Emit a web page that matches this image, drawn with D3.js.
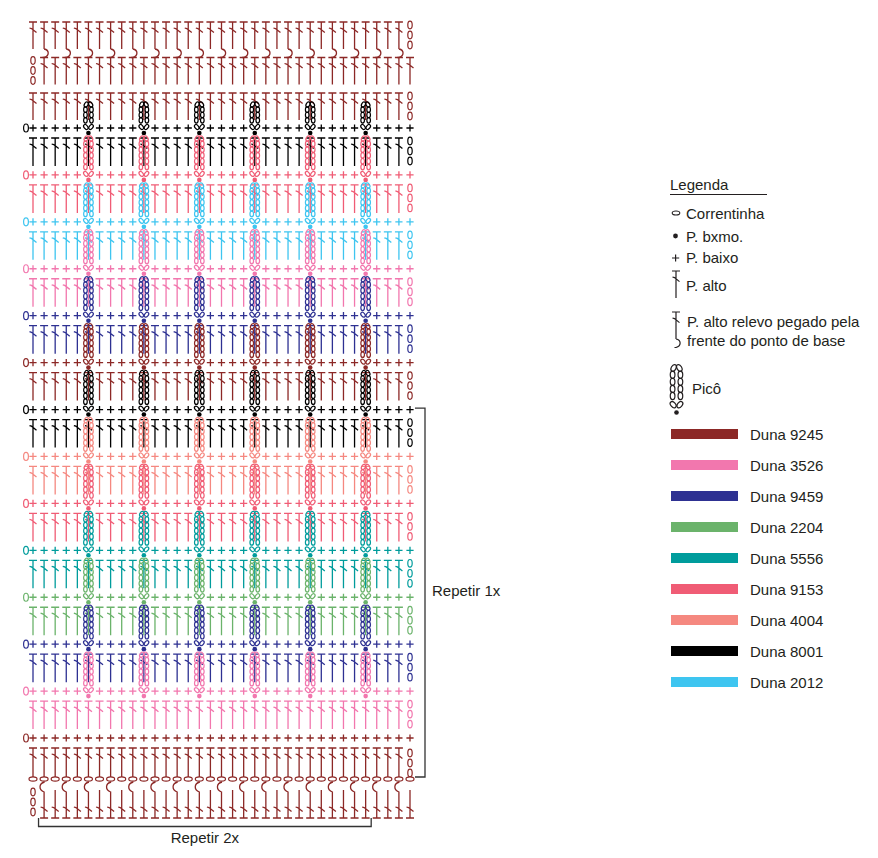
<!DOCTYPE html>
<html>
<head>
<meta charset="utf-8">
<script src="https://cdn.jsdelivr.net/npm/d3@7"></script>
<style>
  body { margin: 0; background: #fff; }
  text { font-family: "Liberation Sans", Arial, sans-serif; font-size: 15px; fill: #231f20; }
</style>
</head>
<body>
<svg id="chart" width="878" height="858"></svg>
<script>
// yarns, in legend order
const yarnCodes = ["9245", "3526", "9459", "2204", "5556", "9153", "4004", "8001", "2012"];
const yarnColors = ["#8c2826", "#f277ae", "#2e3192", "#6bb36b", "#009c9c", "#f05c75", "#f58880", "#000000", "#3ec5f0"];

// bands top to bottom: a row of P. baixo, then a row of P. alto under it
const bandYarns = ["8001", "9153", "2012", "3526", "9459", "9245", "8001", "4004", "9153", "5556", "2204", "9459", "3526", "9245"];
const bandPicot = [true, true, true, true, true, true, true, true, true, true, true, true, true, false];
const picotCols = [5, 10, 15, 20, 25, 30];
const nCols = 35;

// the three P. alto rows at the very top
const topRowYarns = ["9245", "9245", "9245"];
const topRowChain = ["right", "left", "right"];
const topRowPost = [true, false, false];

// legend texts
const symbolLabels = [["Correntinha"], ["P. bxmo."], ["P. baixo"], ["P. alto"],
  ["P. alto relevo pegado pela", "frente do ponto de base"], ["Picô"]];
const repeatLabels = ["Repetir 1x", "Repetir 2x"];

const svg = d3.select("#chart");
const color = d3.scaleOrdinal().domain(yarnCodes).range(yarnColors);
const ink = "#231f20";

const x = d3.scaleLinear().domain([0, nCols - 1]).range([33, 410]);
const yBand = d3.scaleLinear().domain([0, bandYarns.length - 1]).range([128, 738]);
const yTopRow = d3.scaleLinear().domain([0, 3]).range([22, 128.5]);
const ySwatch = d3.scaleLinear().domain([0, yarnCodes.length - 1]).range([434, 682]);

/* ---- build stitch lists ---- */
let dcs = [], chains = [], scs = [], scStarts = [], picots = [], found = [];

topRowYarns.forEach((yarn, r) => {
  let t = yTopRow(r);
  let first = topRowChain[r] == "left" ? 1 : 0;
  for (let c = first; c < first + nCols - 1; c++) {
    let post = topRowPost[r] && c % 2 == 1;
    dcs.push({col: c, t: t, b: t + 27, yarn: yarn, post: post, inv: false});
  }
  let cc = topRowChain[r] == "left" ? 0 : nCols - 1;
  [3, 13, 23].forEach(o => chains.push({col: cc, y: t + o, yarn: yarn}));
});

bandYarns.forEach((yarn, k) => {
  let s = yBand(k);
  scStarts.push({y: s, yarn: yarn});
  for (let c = 0; c < nCols; c++) {
    if (bandPicot[k] && picotCols.includes(c)) continue;
    scs.push({col: c, y: s, yarn: yarn});
  }
  let last = k == bandYarns.length - 1;
  let t = s + 10;
  for (let c = 0; c < nCols - 1; c++) {
    dcs.push({col: c, t: t, b: last ? s + 39 : s + 38, yarn: yarn, post: false, inv: false});
  }
  (last ? [5, 15, 25] : [3, 13, 23]).forEach(o => chains.push({col: nCols - 1, y: t + o, yarn: yarn}));
  if (bandPicot[k]) {
    let top = k == 0 ? s - 25 : yBand(k - 1) + 9;
    picotCols.forEach(c => picots.push({col: c, top: top, s: s, yarn: yarn}));
  }
});

// foundation chain and the row worked on its other side
const yFound = yBand(bandYarns.length - 1) + 41;
const baseYarn = bandYarns[bandYarns.length - 1];
for (let c = 0; c < nCols; c++) found.push({col: c, y: yFound, yarn: baseYarn});
for (let c = 1; c < nCols; c++) {
  dcs.push({col: c, t: yFound + 3, b: yFound + 39, yarn: baseYarn, post: c % 2 == 1, inv: true});
}
[13, 23, 33].forEach(o => chains.push({col: 0, y: yFound + o, yarn: baseYarn}));

/* ---- glyph paths ---- */
function dcPath(cx, t, b, post, inv) {
  if (!inv) {
    let p = `M${cx - 4},${t}H${cx + 4}M${cx},${t}V${b}M${cx - 3.5},${t + 6}l2,0.6l5,4`;
    if (post) p += `M${cx},${b}c5.5,1 5.5,7 0,8.5l-1.5,0`;
    return p;
  }
  let p = `M${cx - 4},${b}H${cx + 4}M${cx - 3.5},${b - 11}l2,0.6l5,4`;
  if (post) p += `M${cx + 0.5},${t}c-6,1.5 -6,8 -0.5,10V${b}`;
  else p += `M${cx},${t + 8}V${b}`;
  return p;
}

const chart = svg.append("g");

chart.selectAll("path.dc").data(dcs).join("path")
  .attr("class", "dc")
  .attr("d", d => dcPath(x(d.col), d.t, d.b, d.post, d.inv))
  .attr("fill", "none")
  .attr("stroke", d => color(d.yarn))
  .attr("stroke-width", 1.3);

chart.selectAll("path.sc").data(scs).join("path")
  .attr("class", "sc")
  .attr("d", d => `M${x(d.col) - 3.6},${d.y}h7.2M${x(d.col)},${d.y - 3.6}v7.2`)
  .attr("stroke", d => color(d.yarn))
  .attr("stroke-width", 1.3);

chart.selectAll("ellipse.scstart").data(scStarts).join("ellipse")
  .attr("class", "scstart")
  .attr("cx", x(0) - 7).attr("cy", d => d.y)
  .attr("rx", 2.4).attr("ry", 4)
  .attr("fill", "none").attr("stroke", d => color(d.yarn)).attr("stroke-width", 1.2);

chart.selectAll("ellipse.ch").data(chains).join("ellipse")
  .attr("class", "ch")
  .attr("cx", d => x(d.col)).attr("cy", d => d.y)
  .attr("rx", 2.2).attr("ry", 3.8)
  .attr("fill", "none").attr("stroke", d => color(d.yarn)).attr("stroke-width", 1.2);

chart.selectAll("ellipse.found").data(found).join("ellipse")
  .attr("class", "found")
  .attr("cx", d => x(d.col)).attr("cy", d => d.y)
  .attr("rx", 4).attr("ry", 2.1)
  .attr("fill", "#fff").attr("stroke", d => color(d.yarn)).attr("stroke-width", 1.2);

// picot: two columns of chains, closed at the top, ending in a slip stitch
function drawPicot(g, cx, top, s, col, k) {
  k = k || 1;
  let n = Math.max(2, Math.round((s - top - 10) / (6 * k)));
  let y0 = top + 4 * k, y1 = s - 5 * k;
  let step = (y1 - y0) / n;
  let ov = [];
  ov.push({x: cx - 2.2 * k, y: top + 1.5 * k, r: 30});
  ov.push({x: cx + 2.2 * k, y: top + 1.5 * k, r: -30});
  for (let i = 0; i < n; i++) {
    let yy = y0 + (i + 0.5) * step;
    ov.push({x: cx - 3 * k, y: yy, r: 0});
    ov.push({x: cx + 3 * k, y: yy, r: 0});
  }
  ov.push({x: cx - 2.6 * k, y: s - 1 * k, r: -40});
  ov.push({x: cx + 2.6 * k, y: s - 1 * k, r: 40});
  g.selectAll("ellipse").data(ov).join("ellipse")
    .attr("transform", o => `translate(${o.x},${o.y}) rotate(${o.r})`)
    .attr("rx", 1.8 * k).attr("ry", 2.75 * k)
    .attr("fill", "none").attr("stroke", col).attr("stroke-width", 1.2);
  g.append("circle").attr("cx", cx).attr("cy", s + 5 * k).attr("r", 2.3).attr("fill", col);
}

chart.selectAll("g.picot").data(picots).join("g")
  .attr("class", "picot")
  .each(function(d) { drawPicot(d3.select(this), x(d.col), d.top, d.s, color(d.yarn)); });

/* ---- repeat brackets ---- */
const yRepTop = yBand(6) - 1.5;
svg.append("path")
  .attr("d", `M${x(nCols - 1) + 5},${yRepTop}H${x(nCols - 1) + 15}V${yFound - 2}H${x(nCols - 1) + 5}`)
  .attr("fill", "none").attr("stroke", "#333").attr("stroke-width", 1.3);
svg.append("text").attr("x", 432).attr("y", 596).text(repeatLabels[0]);

svg.append("path")
  .attr("d", `M${x(0.5)},${yFound + 39}V${yFound + 47.5}H${x(30.5)}V${yFound + 39}`)
  .attr("fill", "none").attr("stroke", "#333").attr("stroke-width", 1.3);
svg.append("text").attr("x", (x(0.5) + x(30.5)) / 2).attr("y", 843)
  .attr("text-anchor", "middle").text(repeatLabels[1]);

/* ---- legend ---- */
const leg = svg.append("g");
leg.append("text").attr("x", 670).attr("y", 190).text("Legenda");
leg.append("line").attr("x1", 670).attr("x2", 767).attr("y1", 194.5).attr("y2", 194.5)
  .attr("stroke", ink).attr("stroke-width", 1);

const symY = [219, 241.5, 263, 291, 327, 394];
symbolLabels.forEach((lines, i) => {
  let tx = i == 5 ? 692 : (i == 4 ? 687 : 686);
  lines.forEach((l, j) => leg.append("text").attr("x", tx).attr("y", symY[i] + j * 18.5).text(l));
});
leg.append("ellipse").attr("cx", 676).attr("cy", 213).attr("rx", 3.8).attr("ry", 2)
  .attr("fill", "none").attr("stroke", ink).attr("stroke-width", 1.1);
leg.append("circle").attr("cx", 675.5).attr("cy", 236).attr("r", 2.4).attr("fill", ink);
leg.append("path").attr("d", "M672,258h7.2M675.6,254.4v7.2").attr("stroke", ink).attr("stroke-width", 1.2);
leg.append("path").attr("d", dcPath(676, 271, 298, false, false))
  .attr("fill", "none").attr("stroke", ink).attr("stroke-width", 1.2);
leg.append("path").attr("d", dcPath(676, 312, 339, true, false))
  .attr("fill", "none").attr("stroke", ink).attr("stroke-width", 1.2);
drawPicot(leg.append("g"), 676.5, 366, 406, ink, 1.3);

leg.selectAll("rect.sw").data(yarnCodes).join("rect")
  .attr("class", "sw")
  .attr("x", 671).attr("y", (d, i) => ySwatch(i) - 5)
  .attr("width", 67).attr("height", 10)
  .attr("fill", d => color(d));
leg.selectAll("text.sw").data(yarnCodes).join("text")
  .attr("class", "sw")
  .attr("x", 750).attr("y", (d, i) => ySwatch(i) + 5.5)
  .text(d => "Duna " + d);
</script>
</body>
</html>
